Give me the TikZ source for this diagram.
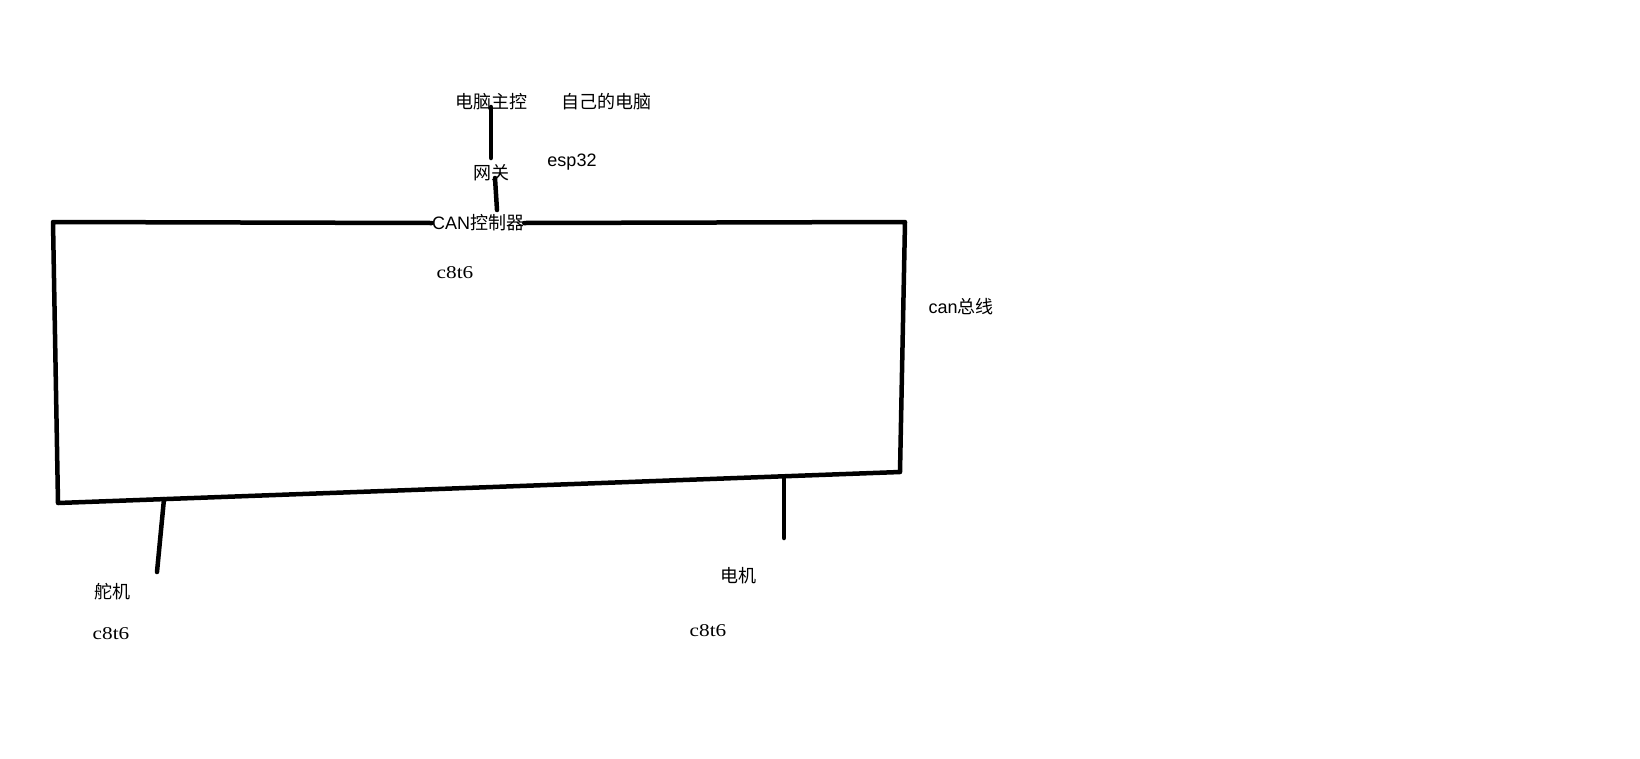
\documentclass[tikz,border=0pt]{standalone}
\usepackage{fontspec}
\setmainfont{Liberation Sans}
\newfontfamily\cjk{Noto Sans CJK SC}
\newfontfamily\serifc{Liberation Serif}
\begin{document}
\begin{tikzpicture}[x=1pt,y=-1pt,
  wire/.style={line width=4.5pt, line cap=round, line join=round},
  lbl/.style={inner sep=0pt, font=\fontsize{18}{20}\selectfont},
  chip/.style={inner sep=0pt, font=\fontsize{18}{20}\selectfont\serifc}]
\useasboundingbox[fill=white] (0,0) rectangle (1640,758);
% labels
\node[lbl] (pc) at (491,102) {\cjk 电脑主控};
\node[lbl] (own) at (606,102) {\cjk 自己的电脑};
\node[lbl] (gw) at (491,173) {\cjk 网关};
\node[lbl] (esp) at (572,162) {esp32};
\node[lbl] (can) at (478,223) {CAN{\cjk 控制器}};
\node[chip] (c1) at (455,273) {\scalebox{1.18}[1]{c8t6}};
\node[lbl] (bus) at (961,307) {can{\cjk 总线}};
\node[lbl] (servo) at (112,592) {\cjk 舵机};
\node[chip] (c2) at (111,634) {\scalebox{1.18}[1]{c8t6}};
\node[lbl] (motor) at (738,576) {\cjk 电机};
\node[chip] (c3) at (708,631) {\scalebox{1.18}[1]{c8t6}};
% coordinates
\coordinate (pcb) at (491,107);
\coordinate (gwt) at (491,158);
\coordinate (gwb) at (495,178);
\coordinate (cant) at (497,210);
\coordinate (tl) at (53,222);
\coordinate (tr) at (905,222);
\coordinate (br) at (900,472);
\coordinate (bl) at (58,503);
\coordinate (sa) at (164,499);
\coordinate (sb) at (157,572);
\coordinate (ma) at (784,477);
\coordinate (mb) at (784,538);
% wires
\draw[wire] (pcb) -- (gwt);
\draw[wire] (gwb) -- (cant);
\draw[wire] (can.west) -- (tl) -- (bl) -- (br) -- (tr) -- (can.east);
\draw[wire] (sa) -- (sb);
\draw[wire] (ma) -- (mb);
\end{tikzpicture}
\end{document}
